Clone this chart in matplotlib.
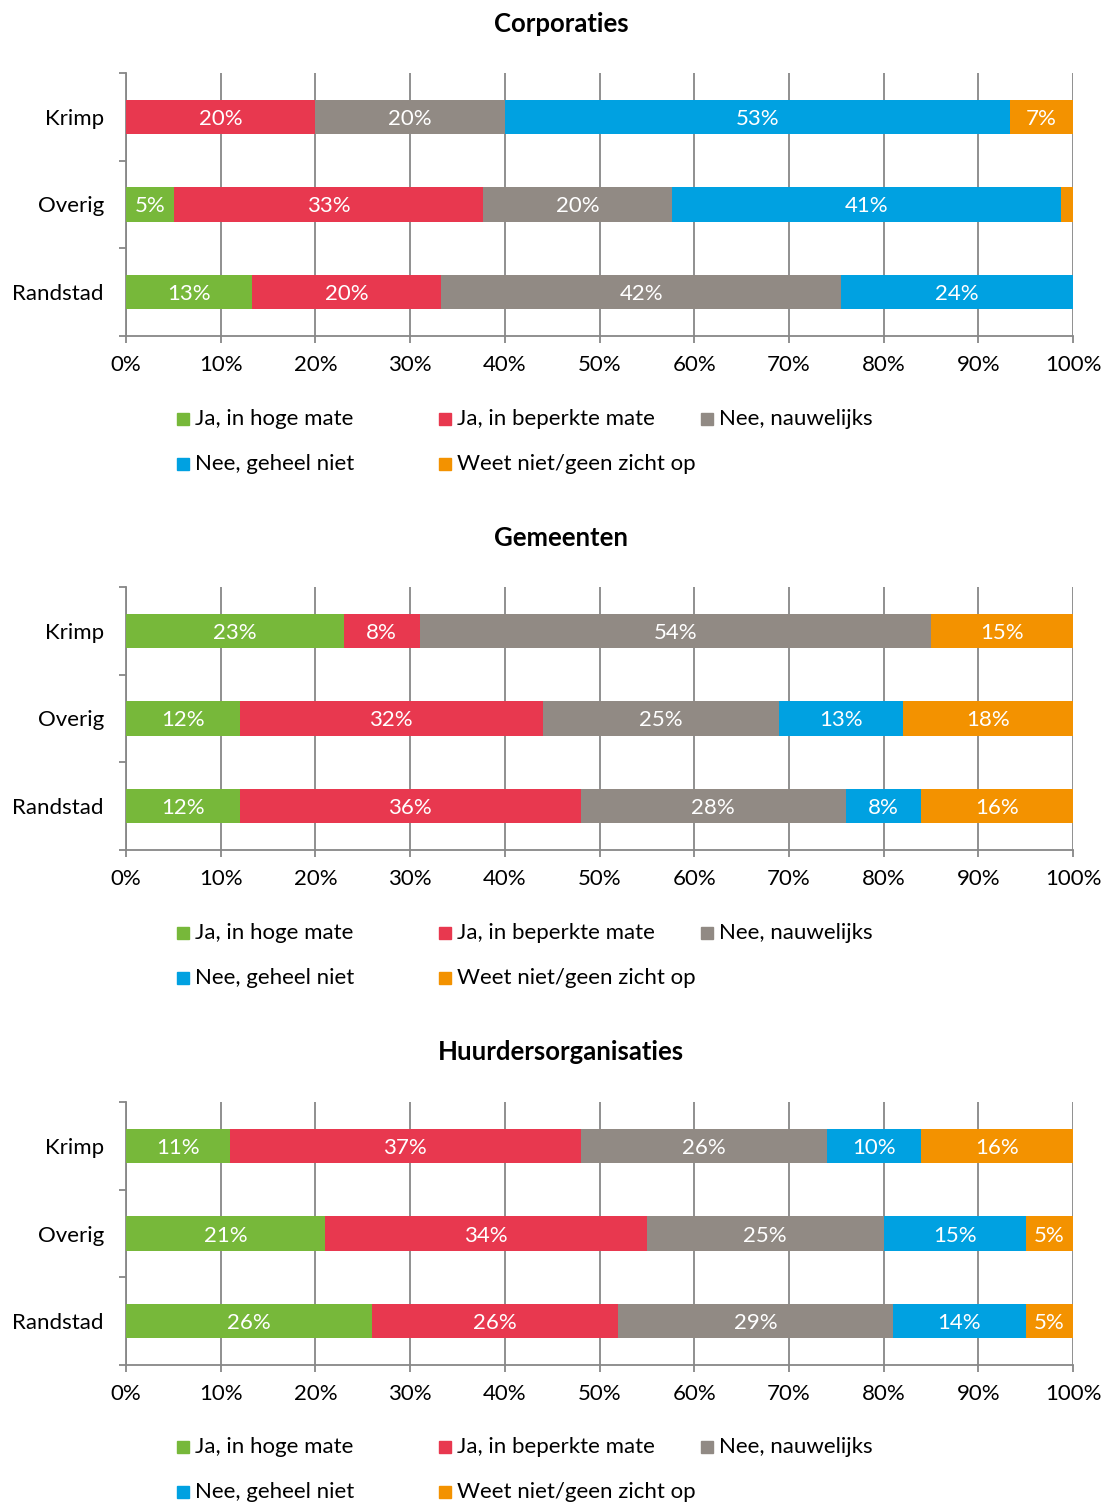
import matplotlib.pyplot as plt
from matplotlib.patches import Rectangle
import numpy as np

plt.rcParams['font.family'] = ['Lato', 'DejaVu Sans']

categories = ['Randstad', 'Overig', 'Krimp']
series = ['Ja, in hoge mate', 'Ja, in beperkte mate', 'Nee, nauwelijks',
          'Nee, geheel niet', 'Weet niet/geen zicht op']
colors = ['#77B83A', '#E8384F', '#918A84', '#00A1E1', '#F39200']

# values per category (Randstad, Overig, Krimp), one list per series
corp_hoge = [13.3, 5.1, 0.0]
corp_beperkt = [20.0, 32.6, 20.0]
corp_nauwelijks = [42.2, 20.0, 20.0]
corp_geheel = [24.5, 41.0, 53.3]
corp_weetniet = [0.0, 1.3, 6.7]

gem_hoge = [12.0, 12.0, 23.0]
gem_beperkt = [36.0, 32.0, 8.0]
gem_nauwelijks = [28.0, 25.0, 54.0]
gem_geheel = [8.0, 13.0, 0.0]
gem_weetniet = [16.0, 18.0, 15.0]

huur_hoge = [26.0, 21.0, 11.0]
huur_beperkt = [26.0, 34.0, 37.0]
huur_nauwelijks = [29.0, 25.0, 26.0]
huur_geheel = [14.0, 15.0, 10.0]
huur_weetniet = [5.0, 5.0, 16.0]

panels = [
    ('Corporaties', [corp_hoge, corp_beperkt, corp_nauwelijks, corp_geheel, corp_weetniet]),
    ('Gemeenten', [gem_hoge, gem_beperkt, gem_nauwelijks, gem_geheel, gem_weetniet]),
    ('Huurdersorganisaties', [huur_hoge, huur_beperkt, huur_nauwelijks, huur_geheel, huur_weetniet]),
]

W, H = 1102, 1503
fig = plt.figure(figsize=(W / 100, H / 100), dpi=100)

axis_top = [73, 587, 1102]
title_y = [24, 538, 1052]
legend_y = [419, 933, 1447]
grid_col = '#878787'
fs = 16

for p, (title, data) in enumerate(panels):
    top = axis_top[p]
    ax = fig.add_axes([126 / W, 1 - (top + 263) / H, 947 / W, 263 / H])
    y = np.arange(len(categories))
    left = np.zeros(len(categories))
    for s, vals in enumerate(data):
        vals = np.array(vals)
        ax.barh(y, vals, left=left, height=0.39, color=colors[s], zorder=3)
        for yi, (l, v) in enumerate(zip(left, vals)):
            if v >= 3:
                ax.text(l + v / 2, yi, f'{v:.0f}%', ha='center', va='center_baseline',
                        color='white', fontsize=fs, zorder=4)
        left = left + vals

    ax.set_xlim(0, 100)
    ax.set_ylim(-0.5, 2.5)
    ax.set_xticks(np.arange(0, 101, 10))
    ax.set_xticklabels([f'{v}%' for v in range(0, 101, 10)], fontsize=fs)
    ax.set_yticks([-0.5, 0.5, 1.5, 2.5])
    ax.set_yticklabels([])
    ax.set_yticks(y, minor=True)
    ax.set_yticklabels(categories, minor=True, fontsize=fs)
    ax.tick_params(axis='y', which='major', length=5, width=1.3, color=grid_col)
    ax.tick_params(axis='y', which='minor', length=0, pad=16)
    ax.tick_params(axis='x', length=5, width=1.3, color=grid_col, pad=9)
    ax.grid(axis='x', color=grid_col, linewidth=1.3, zorder=0)
    for side in ['top', 'right']:
        ax.spines[side].set_visible(False)
    for side in ['left', 'bottom']:
        ax.spines[side].set_color(grid_col)
        ax.spines[side].set_linewidth(1.3)

    fig.text(561 / W, 1 - title_y[p] / H, title, ha='center', va='center',
             fontsize=18.5, fontweight='bold')

    # legend laid out in rows of three, like the original
    for i, name in enumerate(series):
        row, col = divmod(i, 3)
        lx = 177 + col * 262
        ly = legend_y[p] + row * 45
        fig.patches.append(Rectangle((lx / W, 1 - (ly + 6) / H), 12 / W, 12 / H,
                                     transform=fig.transFigure, color=colors[i]))
        fig.text((lx + 18) / W, 1 - ly / H, name, ha='left', va='center', fontsize=fs)

fig.savefig('out.png', dpi=100)
